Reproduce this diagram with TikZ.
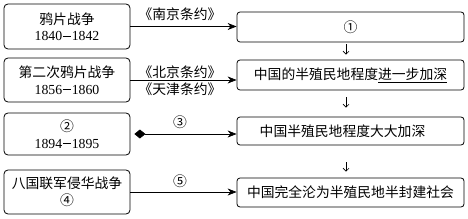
\documentclass[tikz,border=0pt]{standalone}
\usepackage{fontspec}
\setmainfont{Liberation Serif}
\newfontfamily\cjk{Noto Sans CJK SC}
\usetikzlibrary{arrows.meta}
\newcommand{\yrdash}{\kern0.5pt\raisebox{4pt}{\rule{8.5pt}{0.8pt}}\kern0.5pt}
\begin{document}
\begin{tikzpicture}[x=1pt,y=-1pt, font=\fontsize{13.8}{16.5}\selectfont,
  lbox/.style={draw, rounded corners=4pt, minimum width=126pt, align=center, inner sep=0pt, line width=0.8pt},
  rbox/.style={draw, rounded corners=3pt, minimum width=227pt, inner sep=0pt, line width=0.8pt},
  conn/.style={-{Stealth[length=9pt,width=7pt]}, line width=0.7pt},
  downarr/.style={-{Straight Barb[length=3pt,width=6pt]}, line width=0.6pt},
  lbl/.style={inner sep=0pt}]
\useasboundingbox (0,0) rectangle (468,219);
% left boxes
\node[lbox, minimum height=45pt] (L1) at (67,26.5) {{\cjk 鸦片战争}\\1840\yrdash1842};
\node[lbox, minimum height=44pt] (L2) at (67,80) {{\cjk 第二次鸦片战争}\\1856\yrdash1860};
\node[lbox, minimum height=42pt] (L3) at (67,134) {{\cjk ②}\\1894\yrdash1895};
\node[lbox, minimum height=44pt] (L4) at (67,192) {{\cjk 八国联军侵华战争}\\{\cjk ④}};
% right boxes
\node[rbox, minimum height=30pt] (R1) at (350.5,27) {\cjk ①};
\node[rbox, minimum height=30pt] (R2) at (350.5,75) {\cjk 中国的半殖民地程度\underline{进一步加深}};
\node[rbox, minimum height=28pt] (R3) at (350.5,131) {\cjk\hspace*{-16pt}中国半殖民地程度大大加深};
\node[rbox, minimum height=29pt] (R4) at (350.5,192.5) {\cjk 中国完全沦为半殖民地半封建社会};
% horizontal connectors
\draw[conn] (L1.east) -- (L1.east -| R1.west);
\draw[conn] (L2.east) -- (L2.east -| R2.west);
\draw[conn, {Diamond[length=11pt,width=9pt]}-{Stealth[length=9pt,width=7pt]}, shorten <=4pt] (L3.east) -- (L3.east -| R3.west);
\draw[conn] (L4.east) -- (L4.east -| R4.west);
% labels
\node[lbl] (t1) at (180,14) {\cjk 《南京条约》};
\node[lbl] (t2) at (180,72.5) {\cjk 《北京条约》};
\node[lbl] (t3) at (180,89.5) {\cjk 《天津条约》};
\node[lbl] (t4) at (180,122) {\cjk ③};
\node[lbl] (t5) at (180,181) {\cjk ⑤};
% down arrows
\draw[downarr, shorten <=2pt, shorten >=5pt] ([xshift=-4.5pt]R1.south) -- ([xshift=-4.5pt]R2.north);
\draw[downarr, shorten <=7pt, shorten >=9pt] ([xshift=-4.5pt]R2.south) -- ([xshift=-4.5pt]R3.north);
\draw[downarr, shorten <=17pt, shorten >=6pt] ([xshift=-4.5pt]R3.south) -- ([xshift=-4.5pt]R4.north);
\end{tikzpicture}
\end{document}
